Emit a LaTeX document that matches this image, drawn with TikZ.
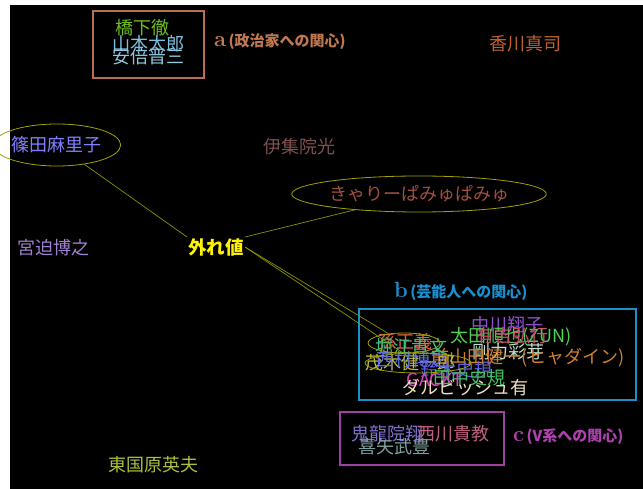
\documentclass[tikz,border=0pt]{standalone}
\usepackage{fontspec}
\newfontfamily\jp{Noto Sans CJK JP}
\usetikzlibrary{shapes.geometric}
\definecolor{cBoxA}{HTML}{B87050}
\definecolor{cLabA}{HTML}{C07850}
\definecolor{cHashi}{HTML}{70C020}
\definecolor{cYama}{HTML}{80C0E0}
\definecolor{cAbe}{HTML}{90C8E0}
\definecolor{cKaga}{HTML}{C06030}
\definecolor{cIju}{HTML}{805050}
\definecolor{cShino}{HTML}{8080FF}
\definecolor{cKya}{HTML}{A05040}
\definecolor{cMiya}{HTML}{A080D0}
\definecolor{cHiga}{HTML}{A8C040}
\definecolor{cLine}{HTML}{909000}
\definecolor{cEll}{HTML}{A0A000}
\definecolor{cLabB}{HTML}{1A90D0}
\definecolor{cBoxB}{HTML}{1890C8}
\definecolor{cBoxC}{HTML}{A040A0}
\definecolor{cLabC}{HTML}{B040B0}
\begin{document}
\begin{tikzpicture}[x=1pt,y=-1pt,
  person/.style={font=\jp\fontsize{18}{18}\selectfont, inner sep=0pt, anchor=center},
  grpbox/.style={draw, line width=1.5pt, minimum width=#1, inner sep=0pt},
  ringel/.style={draw=cEll, ellipse, line width=0.8pt, inner sep=0pt},
  linkline/.style={draw=cLine, line width=0.7pt},
  grplab/.style={font=\jp\bfseries\fontsize{15}{15}\selectfont, inner sep=0pt, anchor=west}]
\useasboundingbox (0,0) rectangle (643,489);
\fill[white] (0,0) rectangle (643,489);
\fill[black] (10,5) rectangle (643,489);

% group boxes
\node[grpbox=111pt, draw=cBoxA, minimum height=67pt] (boxA) at (148.5,44.5) {};
\node[grpbox=277pt, draw=cBoxB, minimum height=91pt] (boxB) at (497.5,354.5) {};
\node[grpbox=164pt, draw=cBoxC, minimum height=53pt] (boxC) at (422,438.5) {};

% group a
\node[person, text=cHashi] (hashi) at (142,28) {橋下徹};
\node[person, text=cYama] (yama) at (148,44) {山本太郎};
\node[person, text=cAbe] (abe) at (148,57) {安倍晋三};
\node[grplab, text=cLabA] (labA) at (214,42) {{\rmfamily\bfseries\fontsize{22}{22}\selectfont a}\,(政治家への関心)};

% loose names
\node[person, text=cKaga] (kaga) at (525,44) {香川真司};
\node[person, text=cIju] (iju) at (299,147) {伊集院光};
\node[person, text=cMiya] (miya) at (53,248) {宮迫博之};
\node[person, text=cHiga] (higa) at (153,465) {東国原英夫};

% outlier centre
\node[font=\jp\bfseries\fontsize{18.5}{18.5}\selectfont, text=yellow, inner sep=1pt] (out) at (216,247) {外れ値};

% circled names
\node[person, ringel, minimum width=96pt, minimum height=42pt, text=cShino] (shino) at (57,145) {篠田麻里子};
\node[person, ringel, minimum width=234pt, minimum height=36pt, text=cKya] (kya) at (419,194) {きゃりーぱみゅぱみゅ};

% group b
\node[grplab, text=cLabB] (labB) at (394,291) {{\rmfamily\bfseries\fontsize{22}{22}\selectfont b}\,(芸能人への関心)};
\node[person, text={rgb,255:red,144;green,80;blue,208}] (nakagawa) at (507,325) {中川翔子};
\node[person, text={rgb,255:red,80;green,208;blue,80}] (zun) at (511,337) {太田順也(ZUN)};
\node[person, text={rgb,255:red,208;green,80;blue,112}] (ariyoshi) at (512,336) {有吉弘行};
\node[person, text={rgb,255:red,192;green,224;blue,200}] (goriki) at (508,352) {剛力彩芽};
\node[person, text={rgb,255:red,208;green,128;blue,48}] (hyadain) at (528,358) {前山田健一(ヒャダイン)};
\node[person, text={rgb,255:red,224;green,96;blue,64}] (son) at (405,342) {孫正義};
\node[person, text={rgb,255:red,64;green,192;blue,128}] (horie) at (411,347) {堀江貴文};
\node[person, text={rgb,255:red,192;green,192;blue,64}] (mogi) at (410,363) {茂木健一郎};
\node[person, text={rgb,255:red,96;green,112;blue,224}] (nishimura) at (412,360) {西村博之};
\node[person, text={rgb,255:red,96;green,96;blue,224}] (blue2) at (456,370) {鈴木史規};
\node[person, text={rgb,255:red,64;green,192;blue,96}] (green2) at (469,378) {田中史規};
\node[person, text={rgb,255:red,224;green,64;blue,192}] (gackt) at (435,380) {GACKT};
\node[person, text={rgb,255:red,240;green,224;blue,192}] (darvish) at (465,388) {ダルビッシュ有};
\node[ringel, minimum width=72pt, minimum height=20pt] (ringB1) at (404,343) {};
\node[ringel, minimum width=106pt, minimum height=20pt] (ringB2) at (418,363) {};

% group c
\node[person, text={rgb,255:red,128;green,112;blue,208}] (kiryu) at (387,434) {鬼龍院翔};
\node[person, text={rgb,255:red,192;green,96;blue,128}] (nishikawa) at (453,434) {西川貴教};
\node[person, text={rgb,255:red,128;green,160;blue,160}] (kyan) at (394,447) {喜矢武豊};
\node[grplab, text=cLabC] (labC) at (513,437) {{\rmfamily\bfseries\fontsize{22}{22}\selectfont c}\,(V系への関心)};

% links
\draw[linkline] (out.north west) -- (shino);
\draw[linkline] (out.north east) -- (kya);
\draw[linkline] (out.east) -- (ringB1);
\draw[linkline] (out.east) -- (ringB2);
\end{tikzpicture}
\end{document}
